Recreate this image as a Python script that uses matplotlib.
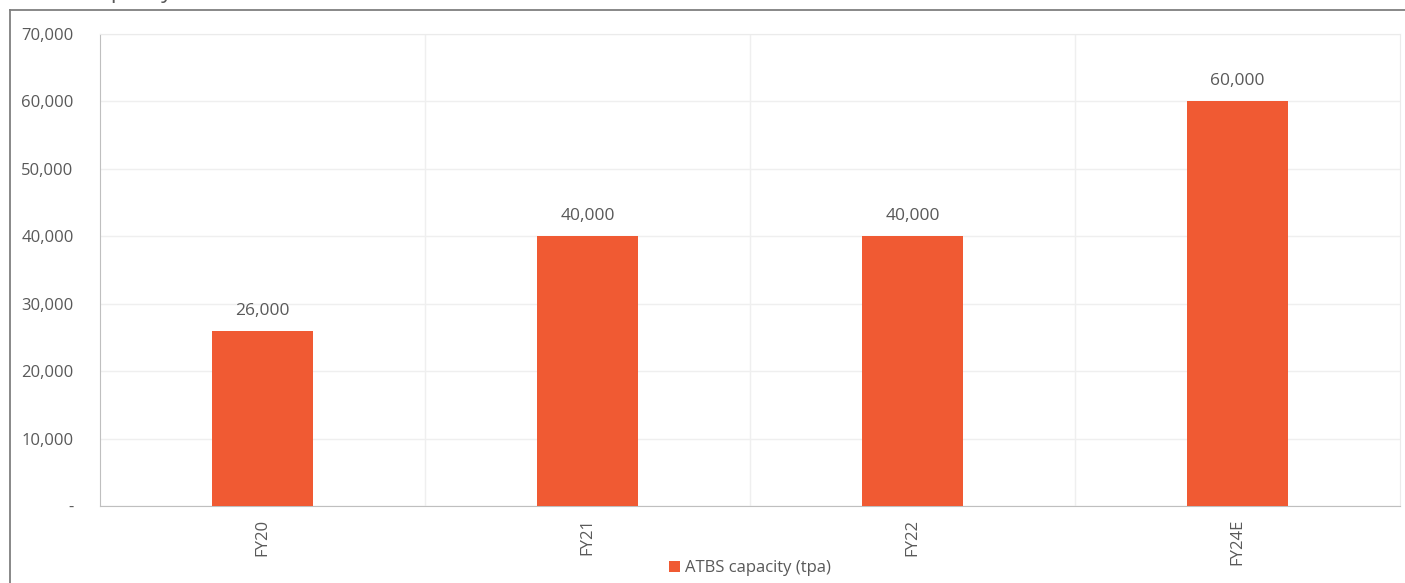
import numpy as np
import matplotlib
matplotlib.use('Agg')
import matplotlib.pyplot as plt
from matplotlib.ticker import FuncFormatter

# datos
categorias = ['FY20', 'FY21', 'FY22', 'FY24E']
capacidad = [26000, 40000, 40000, 60000]
serie = 'ATBS capacity (tpa)'

naranja = '#F05A33'
gris_txt = '#595959'

plt.rcParams['font.family'] = ['Open Sans', 'DejaVu Sans']

fig = plt.figure(figsize=(14.05, 5.83), dpi=100)
ax = fig.add_axes([100/1405, 77/583, 1300/1405, 472/583])

x = np.arange(len(categorias))
barras = ax.bar(x, capacidad, width=0.31, color=naranja, label=serie, zorder=3)

# etiquetas de valor
for xi, v in zip(x, capacidad):
    ax.text(xi, v + 1800, f'{v:,}', ha='center', va='bottom', fontsize=12.5, color=gris_txt)

ax.set_xlim(-0.5, len(categorias) - 0.5)
ax.set_ylim(0, 70000)
ax.set_yticks(np.arange(0, 70001, 10000))
ax.yaxis.set_major_formatter(FuncFormatter(lambda v, p: '-' if v == 0 else f'{int(v):,}'))
ax.set_xticks(x)
ax.set_xticklabels(categorias, rotation=90, fontsize=12, color=gris_txt)
ax.set_xticks(np.arange(0.5, len(categorias) - 0.5, 1), minor=True)
ax.tick_params(axis='y', labelsize=12, labelcolor=gris_txt, length=0, pad=19)
ax.tick_params(axis='x', which='both', length=0, pad=9)

ax.grid(axis='y', color='#efefef', lw=1, zorder=0)
ax.grid(axis='x', which='minor', color='#efefef', lw=1, zorder=0)

for s in ['top', 'right']:
    ax.spines[s].set_color('#ebebeb')
for s in ['bottom', 'left']:
    ax.spines[s].set_color('#bfbfbf')

ax.legend(loc='upper center', bbox_to_anchor=(0.5, -0.108), frameon=False, fontsize=12,
          handlelength=0.7, handleheight=0.7, handletextpad=0.3, labelcolor=gris_txt,
          borderaxespad=0, borderpad=0.2)

# marco exterior de la captura
fig.add_artist(plt.Line2D([10/1405, 10/1405], [0, 1 - 10/583], color='#7f7f7f', lw=1.3))
fig.add_artist(plt.Line2D([10/1405, 1], [1 - 10/583, 1 - 10/583], color='#7f7f7f', lw=1.3))

# titulo cortado arriba (asi aparece en la captura)
fig.text(172/1405, 1 + 2/583, 'ATBS capacity', ha='right', va='baseline', fontsize=16, color=gris_txt)

fig.savefig('out.png', dpi=100)
